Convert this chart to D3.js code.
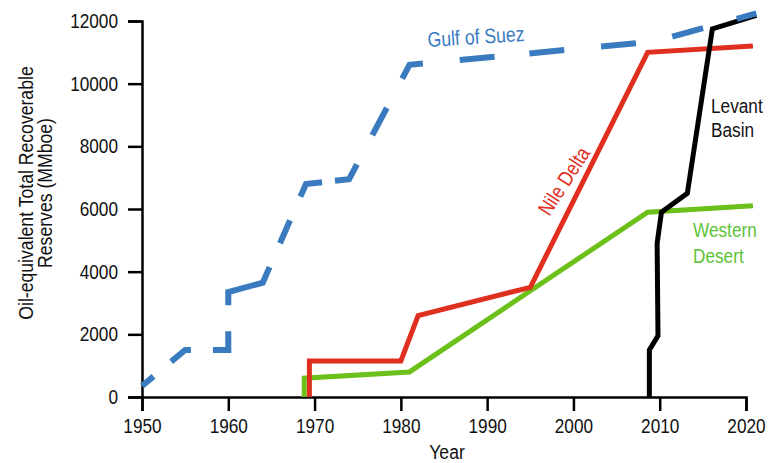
<!DOCTYPE html>
<html>
<head>
<meta charset="utf-8">
<script src="https://cdn.jsdelivr.net/npm/d3@7/dist/d3.min.js"></script>
<style>
  html, body { margin: 0; padding: 0; background: #fff; }
  svg { display: block; }
  text { font-family: "Liberation Sans", Arial, sans-serif; }
</style>
</head>
<body>
<svg id="chart" width="768" height="463"></svg>
<script>
// Cumulative oil-equivalent total recoverable reserves (MMboe) by basin
const xTicks = [1950, 1960, 1970, 1980, 1990, 2000, 2010, 2020];
const yTicks = [0, 2000, 4000, 6000, 8000, 10000, 12000];

const gulfYears  = [1950, 1955, 1960, 1960, 1964, 1969, 1974, 1981, 2009.5, 2021.2];
const gulfValues = [350, 1500, 1500, 3350, 3650, 6800, 6950, 10600, 11350, 12240];

const nileYears  = [1969.4, 1969.4, 1980, 1982, 1995, 2008.6, 2020.8];
const nileValues = [0, 1150, 1150, 2600, 3500, 11000, 11200];

const westYears  = [1968.8, 1968.8, 1981, 2008.6, 2020.8];
const westValues = [0, 600, 800, 5900, 6100];

const levantYears  = [2008.8, 2008.8, 2009.8, 2009.7, 2010.2, 2013.2, 2016.1, 2021.2];
const levantValues = [0, 1500, 1950, 4900, 5900, 6500, 11750, 12180];

const svg = d3.select("#chart");
const margin = { left: 142, right: 22, top: 21, bottom: 66 };
const W = 768, H = 463;
const SX = 0.84; // horizontal condensing of all lettering

// Long-dash pattern of the Gulf of Suez curve (dashes gathered round the corners)
const gulfDash = "15,23,24,22,34,26,66,26,25,26,30,13,31,33,31,33,29,37,35,35,35,37,35,37,32,35,40,100";

const x = d3.scaleLinear().domain([1950, 2020]).range([margin.left, W - margin.right]);
const y = d3.scaleLinear().domain([0, 12000]).range([H - margin.bottom, margin.top]);

const toPoints = (xs, vs) => xs.map((d, i) => [d, vs[i]]);
const line = d3.line().x(d => x(d[0])).y(d => y(d[1]));

// Axes
const xAxis = svg.append("g")
  .attr("transform", `translate(0,${y(0)})`)
  .call(d3.axisBottom(x).tickValues(xTicks).tickFormat(d3.format("d")).tickSize(14).tickPadding(7));
const yAxis = svg.append("g")
  .attr("transform", `translate(${x(1950)},0)`)
  .call(d3.axisLeft(y).tickValues(yTicks).tickFormat(d3.format("d")).tickSize(14).tickPadding(10));

[xAxis, yAxis].forEach(g => {
  g.selectAll("path.domain").attr("stroke", "#000").attr("stroke-width", 2.5);
  g.selectAll(".tick line").attr("stroke", "#000").attr("stroke-width", 2.5);
  g.selectAll(".tick text")
    .attr("fill", "#111").style("font-size", "20.5px")
    .attr("x", function () { return +d3.select(this).attr("x") / SX; })
    .attr("transform", `scale(${SX},1)`);
});

// Axis titles
svg.append("text")
  .attr("transform", `translate(${(x(1950) + x(2020)) / 2 + 3},459) scale(${SX},1)`)
  .attr("text-anchor", "middle").style("font-size", "21px").attr("fill", "#111")
  .text("Year");

const yTitle = svg.append("text")
  .attr("transform", `translate(33,193) rotate(-90) scale(${SX},1)`)
  .attr("text-anchor", "middle").style("font-size", "21px").attr("fill", "#111");
yTitle.append("tspan").attr("x", 0).attr("y", 0).text("Oil-equivalent Total Recoverable");
yTitle.append("tspan").attr("x", 0).attr("y", 19).text("Reserves (MMboe)");

// Series
const series = [
  { pts: toPoints(westYears, westValues), color: "#6cc01a", width: 5, dash: null },
  { pts: toPoints(nileYears, nileValues), color: "#df2f1f", width: 5, dash: null },
  { pts: toPoints(levantYears, levantValues), color: "#000", width: 5, dash: null },
  { pts: toPoints(gulfYears, gulfValues), color: "#3a7bbf", width: 6, dash: gulfDash }
];

svg.append("g").selectAll("path")
  .data(series).join("path")
  .attr("d", d => line(d.pts))
  .attr("fill", "none")
  .attr("stroke", d => d.color)
  .attr("stroke-width", d => d.width)
  .attr("stroke-dasharray", d => d.dash)
  .attr("stroke-linejoin", "miter")
  .attr("stroke-linecap", "butt");

// Basin labels
svg.append("text")
  .attr("transform", `translate(428,47) rotate(-3.6) scale(${SX},1)`)
  .style("font-size", "21px").attr("fill", "#3a7bbf")
  .text("Gulf of Suez");

svg.append("text")
  .attr("transform", `translate(570,185) rotate(-57) scale(${SX},1)`)
  .attr("text-anchor", "middle")
  .style("font-size", "21px").attr("fill", "#df2f1f")
  .text("Nile Delta");

const lev = svg.append("text")
  .attr("transform", `translate(711,113) scale(${SX},1)`)
  .style("font-size", "20.5px").attr("fill", "#111");
lev.append("tspan").attr("x", 0).attr("y", 0).text("Levant");
lev.append("tspan").attr("x", 0).attr("y", 24).text("Basin");

const west = svg.append("text")
  .attr("transform", `translate(693,237) scale(${SX},1)`)
  .style("font-size", "20.5px").attr("fill", "#5cc236");
west.append("tspan").attr("x", 0).attr("y", 0).text("Western");
west.append("tspan").attr("x", 0).attr("y", 26).text("Desert");
</script>
</body>
</html>
